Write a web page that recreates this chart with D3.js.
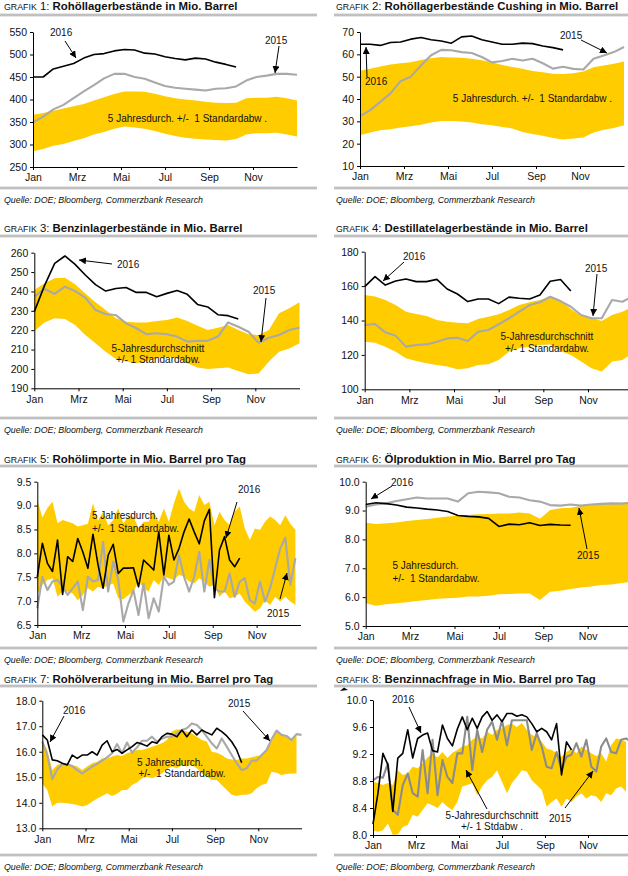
<!DOCTYPE html>
<html>
<head>
<meta charset="utf-8">
<script src="https://cdn.jsdelivr.net/npm/d3@7"></script>
<style>
  body { margin: 0; background: #fff; }
  svg { display: block; font-family: "Liberation Sans", Arial, sans-serif; }
</style>
</head>
<body>
<svg id="chart" width="628" height="876"></svg>
<script>
// month labels on the x axis (every second month)
const months = ["Jan", "Mrz", "Mai", "Jul", "Sep", "Nov"];

// GRAFIK 1: Rohöllagerbestände (every 2 weeks)
const p1Upper = [366,370,375,380,385,390,398,405,412,418,418,417,413,407,403,400,398,395,393,392,393,403,404,404,406,403,398];
const p1Lower = [285,290,297,301,308,314,322,328,335,340,338,335,330,324,319,315,313,311,310,309,312,322,325,325,326,322,318];
const p1Y2015 = [349,362,378,388,403,418,432,447,457,457,450,446,438,430,426,424,422,420,424,425,429,442,450,453,457,457,455];
const p1Y2016 = [450,450,468,474,480,492,500,502,508,511,510,503,501,495,491,488,492,490,483,478,472];

// GRAFIK 2: Cushing (every 2 weeks)
const p2Upper = [52.6,53.5,54.5,55.5,56,56.5,57.5,58.3,58.8,58.6,58.5,58,57.3,56.5,55.2,54.3,53.5,52.5,52,51.3,51.2,51.5,52.3,54.2,55,55.8,56.8];
const p2Lower = [23.8,25,26,26.5,27.2,27.8,28.5,29.5,30.2,30.1,29.9,29.5,28.7,28.3,27.5,26.8,25.2,24.3,23.5,22.5,21.9,22.3,22.8,25,26.2,27,28.2];
const p2Y2015 = [32.3,35,38.7,42.5,48,50,55,59.6,62,61.8,61,60.6,58.8,56.4,57,58,57.2,58,56,53.6,54.4,53.5,53.2,58,59.5,61,63.3];
const p2Y2016 = [64.5,64.5,64,65.3,65.5,66.8,67.5,66.5,66,65,67.8,68.2,66.5,65.5,64.5,64.5,65,64.8,63.7,63,62];

// GRAFIK 3: Benzinlager (every 2 weeks)
const p3Upper = [240.7,244.2,246.8,247.1,243.7,239,234.4,230.4,226.1,224.4,224,224,224.7,225.3,226.5,224.7,222.3,220.1,221.2,222.7,220.1,217.9,217.5,220.1,228.7,231.3,234.4];
const p3Lower = [219.6,224,226.1,225.8,222.7,217.5,213.2,208.9,205.1,203.8,202.9,204.1,205.5,206.3,205.5,202.9,200.7,200,200.3,200.7,198.9,197.2,197.7,203.8,208.9,210.6,213.2];
const p3Y2015 = [237.3,241.3,238.7,242.5,240.2,236.8,230.4,228.2,227.8,223.5,221,217.9,218.4,217.9,216.7,214.1,214.5,214.5,216.7,224,221.8,219.2,213.5,216.1,217.5,220.1,221.3];
const p3Y2016 = [229.6,243,254.5,258.3,254,248.5,243.5,240.2,241.5,242,239.5,239.5,237.3,239,240.5,238.5,233.3,232,228,227.5,225.8];

// GRAFIK 4: Destillate (every 2 weeks)
const p4Upper = [154.8,154,151.9,149,145.1,143.8,142.6,140.3,139.3,138.7,138.4,140.9,142.2,143.6,146.1,149,150.6,151.9,153.8,151.3,146.7,142.8,141.6,139.7,143.2,145.1,148];
const p4Lower = [127.7,127,124.8,121.9,118,116.5,115.1,114.1,113.2,111.6,112.2,114.1,114.5,117,121.9,123.8,124.8,125.8,126.1,122.3,120,116.1,112.2,110.3,116.1,117,121];
const p4Y2015 = [137.4,138,133.1,131.2,124.8,125.8,126.1,127.7,129.6,130,128.1,133.5,134.5,137.8,141.3,145.1,149,150.6,153.8,151.3,148,143.2,141.3,141.3,151.9,150.9,154];
const p4Y2016 = [159.7,165.5,160.6,163,164.1,162.6,162.6,163.9,158.3,155.4,151,152.5,152.5,149.8,153.6,152.9,152.5,154.8,162.8,163.8,157.1];

// GRAFIK 5: Rohölimporte (weekly)
const p5Upper = [9.12,8.75,8.95,9.08,8.63,8.7,8.66,8.63,8.56,8.59,8.62,9.05,8.68,8.87,8.59,8.7,8.94,8.63,8.77,8.77,8.52,8.66,8.66,8.87,8.66,8.94,8.66,9.05,9.36,9.08,8.94,8.87,9.22,9.01,9.08,8.59,8.87,8.7,8.59,8.87,8.98,8.52,8.28,8.52,8.49,8.66,8.77,8.7,8.59,8.8,8.62,8.49];
const p5Lower = [7.16,7.34,7.44,7.48,7.09,7.2,7.2,7.16,7.02,7.13,7.27,7.2,7.3,7.27,7.34,7.37,7.06,7.04,7.13,7.2,7.41,7.27,7.2,7.44,7.34,7.51,7.48,7.44,7.55,7.51,7.41,7.37,7.48,7.41,7.3,7.34,7.09,7.2,7.06,7.09,7.16,6.99,6.88,6.78,6.85,7.02,6.92,7.09,6.99,7.09,6.99,6.92];
const p5Y2015 = [6.85,7.51,7.23,7.41,7.44,7.3,7.13,7.27,7.41,6.81,7.51,7.41,7.44,8.24,7.2,7.83,7.44,6.57,6.95,7.23,6.71,7.37,6.64,7.06,6.78,7.51,7.34,7.41,7.96,7.51,7.2,7.51,8.03,7.2,7.86,7.27,7.2,7.2,7.58,7.09,7.41,7.48,7.02,6.95,7.41,6.99,7.27,7.69,8.1,8.33,7.34,7.9];
const p5Y2016 = [7.51,8.21,7.79,7.62,8.28,7.14,7.93,7.83,8.31,8.03,7.69,8.4,7.76,7.27,7.96,8.19,7.58,7.69,7.69,7.7,7.3,7.86,7.76,7.65,8.45,7.55,8.38,7.86,8.1,8.45,8.72,8.45,8.2,8.68,8.92,7.07,8.07,8.35,7.86,7.72,7.9];

// GRAFIK 6: Ölproduktion (every 2 weeks)
const p6Upper = [8.58,8.53,8.56,8.59,8.64,8.67,8.71,8.75,8.79,8.82,8.85,8.87,8.88,8.9,8.9,8.93,8.9,8.72,9.02,9.08,9.1,9.16,9.19,9.23,9.25,9.27,9.28];
const p6Lower = [5.79,5.7,5.75,5.79,5.82,5.87,5.9,5.94,5.96,5.98,6.02,6.02,6.05,6.1,6.11,6.13,6.13,5.9,6.19,6.22,6.28,6.33,6.37,6.42,6.44,6.49,6.54];
const p6Y2015 = [9.13,9.21,9.25,9.33,9.39,9.45,9.42,9.42,9.42,9.31,9.6,9.65,9.63,9.6,9.48,9.45,9.36,9.31,9.19,9.17,9.21,9.17,9.21,9.23,9.25,9.24,9.28];
const p6Y2016 = [9.21,9.27,9.24,9.19,9.12,9.09,9.05,9.02,8.97,8.83,8.8,8.78,8.73,8.45,8.53,8.51,8.58,8.48,8.52,8.5,8.49];

// GRAFIK 7: Rohölverarbeitung (weekly)
const p7Upper = [16.4,16.07,15.28,15.48,15.55,15.48,15.48,15.42,15.28,15.42,15.55,15.61,15.74,15.74,15.81,15.87,15.83,15.94,16.0,16.07,16.07,16.13,16.2,16.26,16.33,16.46,16.79,16.88,16.85,16.79,16.72,16.59,16.46,16.4,16.0,15.96,15.87,15.74,15.7,15.68,15.74,15.74,15.78,15.83,15.87,16.07,16.4,16.79,16.66,16.59,16.52,16.62];
const p7Lower = [14.76,14.5,13.85,14.0,14.0,13.98,13.95,13.91,13.85,13.91,14.04,14.17,14.27,14.37,14.27,14.35,14.5,14.5,14.7,14.79,14.96,15.02,14.96,15.05,15.15,15.31,15.42,15.35,15.48,15.42,15.48,15.35,15.15,15.02,14.89,14.89,14.7,14.5,14.31,14.27,14.31,14.31,14.37,14.57,14.7,14.76,15.22,15.18,15.09,15.13,15.15,15.15];
const p7Y2015 = [16.4,15.87,14.92,15.31,15.52,15.52,15.44,15.28,15.15,15.28,15.42,15.52,15.65,15.78,15.94,16.3,15.94,16.36,15.96,16.17,16.43,16.43,16.59,16.39,16.52,16.59,16.59,16.72,16.85,16.92,17.11,17.05,16.85,16.59,16.33,16.13,16.52,16.2,15.87,15.55,15.28,15.35,15.65,15.65,15.87,16.07,16.49,16.83,16.66,16.62,16.46,16.69,16.66];
const p7Y2016 = [16.66,16.46,15.68,15.65,15.55,15.48,15.87,15.74,15.87,15.87,16.0,15.87,16.26,16.43,16.0,16.09,15.94,16.07,16.2,16.36,16.3,16.22,16.39,16.33,16.59,16.72,16.69,16.59,16.85,16.59,16.85,16.66,16.85,16.75,16.66,16.92,16.79,16.62,16.39,16.07,15.57];

// GRAFIK 8: Benzinnachfrage (weekly)
const p8Upper = [8.79,8.77,8.74,8.77,8.74,8.96,8.89,8.91,9.01,8.99,9.06,9.15,9.21,9.15,9.23,9.14,9.22,9.26,9.31,9.33,9.41,9.46,9.43,9.53,9.48,9.56,9.58,9.63,9.65,9.6,9.66,9.56,9.48,9.46,9.38,9.28,9.26,9.21,9.16,9.23,9.28,9.21,9.31,9.26,9.21,9.17,9.21,9.09,9.33,9.43,9.41,9.38];
const p8Lower = [8.07,8.05,8.07,8.17,8.0,8.01,8.12,8.15,8.3,8.27,8.37,8.47,8.44,8.4,8.49,8.42,8.37,8.49,8.72,8.74,8.77,8.59,8.72,8.81,8.86,8.96,8.79,8.62,8.77,8.86,8.96,8.94,8.81,8.74,8.67,8.42,8.49,8.54,8.42,8.54,8.49,8.57,8.62,8.54,8.59,8.57,8.49,8.62,8.59,8.69,8.72,8.64];
const p8Y2015 = [8.81,8.86,8.85,9.06,8.37,8.3,8.74,8.91,8.62,8.57,9.26,8.62,9.41,8.59,9.11,8.86,8.77,9.21,9.21,9.75,8.96,9.56,9.23,9.56,9.68,9.41,9.7,9.33,9.7,9.7,9.7,9.7,9.26,9.51,9.31,9.01,8.99,9.23,8.96,9.16,9.19,9.36,9.16,9.41,9.01,8.94,9.31,9.43,9.23,9.21,9.41,9.43,9.38];
const p8Y2016 = [8.16,8.62,9.21,9.04,8.35,9.14,9.21,9.56,9.14,9.43,9.48,9.51,9.25,9.23,9.63,9.43,9.32,9.57,9.75,9.56,9.73,9.58,9.75,9.83,9.7,9.78,9.68,9.8,9.8,9.76,9.78,9.75,9.65,9.53,9.58,9.53,9.41,9.65,8.89,9.38,9.26];

const source = "Quelle: DOE; Bloomberg, Commerzbank Research";
const bandShort = "5 Jahresdurch. +/-  1 Standardabw .";

const L = { text: 4, r0: 0, r1: 317 };
const R = { text: 336, r0: 334, r1: 628 };
const rows = [
  { title: 10, top: 15, bot: 188, src: 203 },
  { title: 232, top: 236, bot: 418, src: 433 },
  { title: 463, top: 466, bot: 648, src: 663 },
  { title: 683, top: 686, bot: 855, src: 870 }
];

const panels = [
  { num: 1, title: "Rohöllagerbestände in Mio. Barrel", col: L, row: rows[0],
    x0: 33, mw: 22, yr: [167, 32], dom: [250, 550], ticks: d3.range(250, 551, 50), fmt: d3.format("d"),
    step: 2, upper: p1Upper, lower: p1Lower, y15: p1Y2015, y16: p1Y2016, grey: "#a9a9a9",
    notes: [
      { t: "2016", x: 50, y: 36, a: [65, 41, 76, 58] },
      { t: "2015", x: 265, y: 44, a: [279, 46, 275, 73] },
      { t: bandShort, x: 187.5, y: 121.7, mid: true }
    ] },
  { num: 2, title: "Rohöllagerbestände Cushing in Mio. Barrel", col: R, row: rows[0],
    x0: 360, mw: 22, yr: [166, 32], dom: [10, 70], ticks: d3.range(10, 71, 10), fmt: d3.format("d"),
    step: 2, upper: p2Upper, lower: p2Lower, y15: p2Y2015, y16: p2Y2016, grey: "#a9a9a9",
    notes: [
      { t: "2016", x: 365, y: 85.3, a: [367, 77, 366, 47] },
      { t: "2015", x: 560, y: 39, a: [581, 40, 607, 53] },
      { t: bandShort, x: 532.5, y: 102, mid: true }
    ] },
  { num: 3, title: "Benzinlagerbestände in Mio. Barrel", col: L, row: rows[1],
    x0: 34.3, mw: 22.1, yr: [388.3, 252.7], dom: [190, 260], ticks: d3.range(190, 261, 10), fmt: d3.format("d"),
    step: 2, upper: p3Upper, lower: p3Lower, y15: p3Y2015, y16: p3Y2016, grey: "#a9a9a9",
    notes: [
      { t: "2016", x: 117, y: 268.3, a: [112, 264, 79, 260] },
      { t: "2015", x: 253, y: 294.3, a: [266, 298, 261, 342] },
      { t: "5-Jahresdurchschnitt", x: 158, y: 351.7, mid: true },
      { t: "+/- 1 Standardabw.", x: 158, y: 362.7, mid: true }
    ] },
  { num: 4, title: "Destillatelagerbestände in Mio. Barrel", col: R, row: rows[1],
    x0: 364.7, mw: 22.33, yr: [389.3, 251.7], dom: [100, 180], ticks: d3.range(100, 181, 20), fmt: d3.format("d"),
    step: 2, upper: p4Upper, lower: p4Lower, y15: p4Y2015, y16: p4Y2016, grey: "#a9a9a9",
    notes: [
      { t: "2016", x: 403, y: 260, a: [404, 262, 383, 281] },
      { t: "2015", x: 585, y: 271.7, a: [597, 274, 593, 316] },
      { t: "5-Jahresdurchschnitt", x: 547, y: 340, mid: true },
      { t: "+/- 1 Standardabw.", x: 547, y: 351.7, mid: true }
    ] },
  { num: 5, title: "Rohölimporte in Mio. Barrel pro Tag", col: L, row: rows[2],
    x0: 37.3, mw: 21.93, yr: [625, 481.7], dom: [6.5, 9.5], ticks: d3.range(6.5, 9.51, 0.5), fmt: d3.format(".1f"),
    step: 1, upper: p5Upper, lower: p5Lower, y15: p5Y2015, y16: p5Y2016, grey: "#a9a9a9",
    notes: [
      { t: "2016", x: 238, y: 492.7, a: [237, 502, 226, 538] },
      { t: "2015", x: 267, y: 616.7, a: [280, 599, 287, 573] },
      { t: "5 Jahresdurch.", x: 125, y: 519, mid: true },
      { t: "+/-  1 Standardabw.", x: 135.5, y: 531.7, mid: true }
    ] },
  { num: 6, title: "Ölproduktion in Mio. Barrel pro Tag", col: R, row: rows[2],
    x0: 365.7, mw: 22.2, yr: [626, 481.7], dom: [5, 10], ticks: d3.range(5, 10.01, 1), fmt: d3.format(".1f"),
    step: 2, upper: p6Upper, lower: p6Lower, y15: p6Y2015, y16: p6Y2016, grey: "#a9a9a9",
    notes: [
      { t: "2016", x: 391, y: 485.7, a: [392, 486, 371, 499] },
      { t: "2015", x: 577, y: 559, a: [587, 549, 579, 508] },
      { t: "5 Jahresdurch.", x: 425.5, y: 569, mid: true },
      { t: "+/-  1 Standardabw.", x: 436, y: 581.7, mid: true }
    ] },
  { num: 7, title: "Rohölverarbeitung in Mio. Barrel pro Tag", col: L, row: rows[3],
    x0: 42.3, mw: 21.6, yr: [828.3, 700.7], dom: [13, 18], ticks: d3.range(13, 18.01, 1), fmt: d3.format(".1f"),
    step: 1, upper: p7Upper, lower: p7Lower, y15: p7Y2015, y16: p7Y2016, grey: "#a9a9a9",
    notes: [
      { t: "2016", x: 63, y: 714, a: [64, 716, 50, 742] },
      { t: "2015", x: 228, y: 706.7, a: [243, 711, 270, 741] },
      { t: "5 Jahresdurch.", x: 170, y: 766, mid: true },
      { t: "+/-  1 Standardabw.", x: 182, y: 776.7, mid: true }
    ] },
  { num: 8, title: "Benzinnachfrage in Mio. Barrel pro Tag", col: R, row: rows[3],
    x0: 373, mw: 21.5, yr: [835, 700], dom: [8, 10], ticks: d3.range(8, 10.01, 0.4), fmt: d3.format(".1f"),
    step: 1, upper: p8Upper, lower: p8Lower, y15: p8Y2015, y16: p8Y2016, grey: "#8c8c8c",
    notes: [
      { t: "2016", x: 392, y: 703.3, a: [409, 707, 421, 733] },
      { t: "2015", x: 549, y: 821.7, a: [565, 808, 593, 771] },
      { t: "5-Jahresdurchschnitt", x: 492, y: 819.3, mid: true, a: [487, 809, 466, 770] },
      { t: "+/- 1 Stdabw .", x: 492, y: 830, mid: true }
    ] }
];

const svg = d3.select("#chart");

svg.append("defs").append("marker")
  .attr("id", "arrow")
  .attr("viewBox", "0 0 10 10")
  .attr("refX", 10).attr("refY", 5)
  .attr("markerWidth", 7).attr("markerHeight", 7)
  .attr("markerUnits", "userSpaceOnUse")
  .attr("orient", "auto")
  .append("path").attr("d", "M0,0 L10,5 L0,10 z").attr("fill", "#000");

panels.forEach(p => {
  const g = svg.append("g");
  const row = p.row, col = p.col;

  // title
  const t = g.append("text").attr("x", col.text).attr("y", row.title)
    .attr("font-size", 11.4).attr("fill", "#111");
  t.append("tspan").attr("font-size", 8.8).text("GRAFIK");
  t.append("tspan").text(" " + p.num + ": ");
  t.append("tspan").attr("font-weight", "bold").text(p.title);

  // grey rules
  [row.top, row.bot].forEach(yy => {
    g.append("rect").attr("x", col.r0).attr("y", yy - 1.4)
      .attr("width", col.r1 - col.r0).attr("height", 2.8).attr("fill", "#c0c0c0");
  });

  g.append("text").attr("x", col.text).attr("y", row.src)
    .attr("font-size", 8.8).attr("font-style", "italic").attr("fill", "#111")
    .text(source);

  const x = d3.scaleLinear().domain([0, 52]).range([p.x0, p.x0 + 12 * p.mw]);
  const y = d3.scaleLinear().domain(p.dom).range(p.yr);
  const wx = (d, i) => x(i * p.step);

  const area = d3.area().x(wx).y0((d, i) => y(p.lower[i])).y1(d => y(d));
  g.append("path").datum(p.upper).attr("d", area).attr("fill", "#ffcc00");

  const line = d3.line().x(wx).y(d => y(d));
  g.append("path").datum(p.y15).attr("d", line)
    .attr("fill", "none").attr("stroke", p.grey).attr("stroke-width", 2.1)
    .attr("stroke-linejoin", "round");
  g.append("path").datum(p.y16).attr("d", line)
    .attr("fill", "none").attr("stroke", "#000").attr("stroke-width", 1.6)
    .attr("stroke-linejoin", "round");

  // axes
  const ya = g.append("g").attr("transform", `translate(${p.x0},0)`)
    .call(d3.axisLeft(y).tickValues(p.ticks).tickFormat(p.fmt).tickSize(3).tickSizeOuter(0).tickPadding(3));
  const xa = g.append("g").attr("transform", `translate(0,${p.yr[0]})`)
    .call(d3.axisBottom(x).tickValues(months.map((m, i) => i * 2 * 52 / 12))
      .tickFormat((d, i) => months[i]).tickSize(3).tickSizeOuter(0).tickPadding(4));
  [ya, xa].forEach(a => {
    a.attr("font-family", null).attr("font-size", 10.5);
    a.selectAll("text").attr("fill", "#111");
  });

  // annotations
  p.notes.forEach(n => {
    g.append("text").attr("x", n.x).attr("y", n.y)
      .attr("font-size", 10).attr("fill", "#111")
      .attr("text-anchor", n.mid ? "middle" : "start")
      .style("white-space", "pre")
      .text(n.t);
    if (n.a) {
      g.append("line").attr("x1", n.a[0]).attr("y1", n.a[1]).attr("x2", n.a[2]).attr("y2", n.a[3])
        .attr("stroke", "#000").attr("stroke-width", 1).attr("marker-end", "url(#arrow)");
    }
  });
});

// small stray mark next to GRAFIK 8 in the original
svg.append("path").attr("d", "M340,691 L344,687.5 L348,690 Z").attr("fill", "#000");
</script>
</body>
</html>
